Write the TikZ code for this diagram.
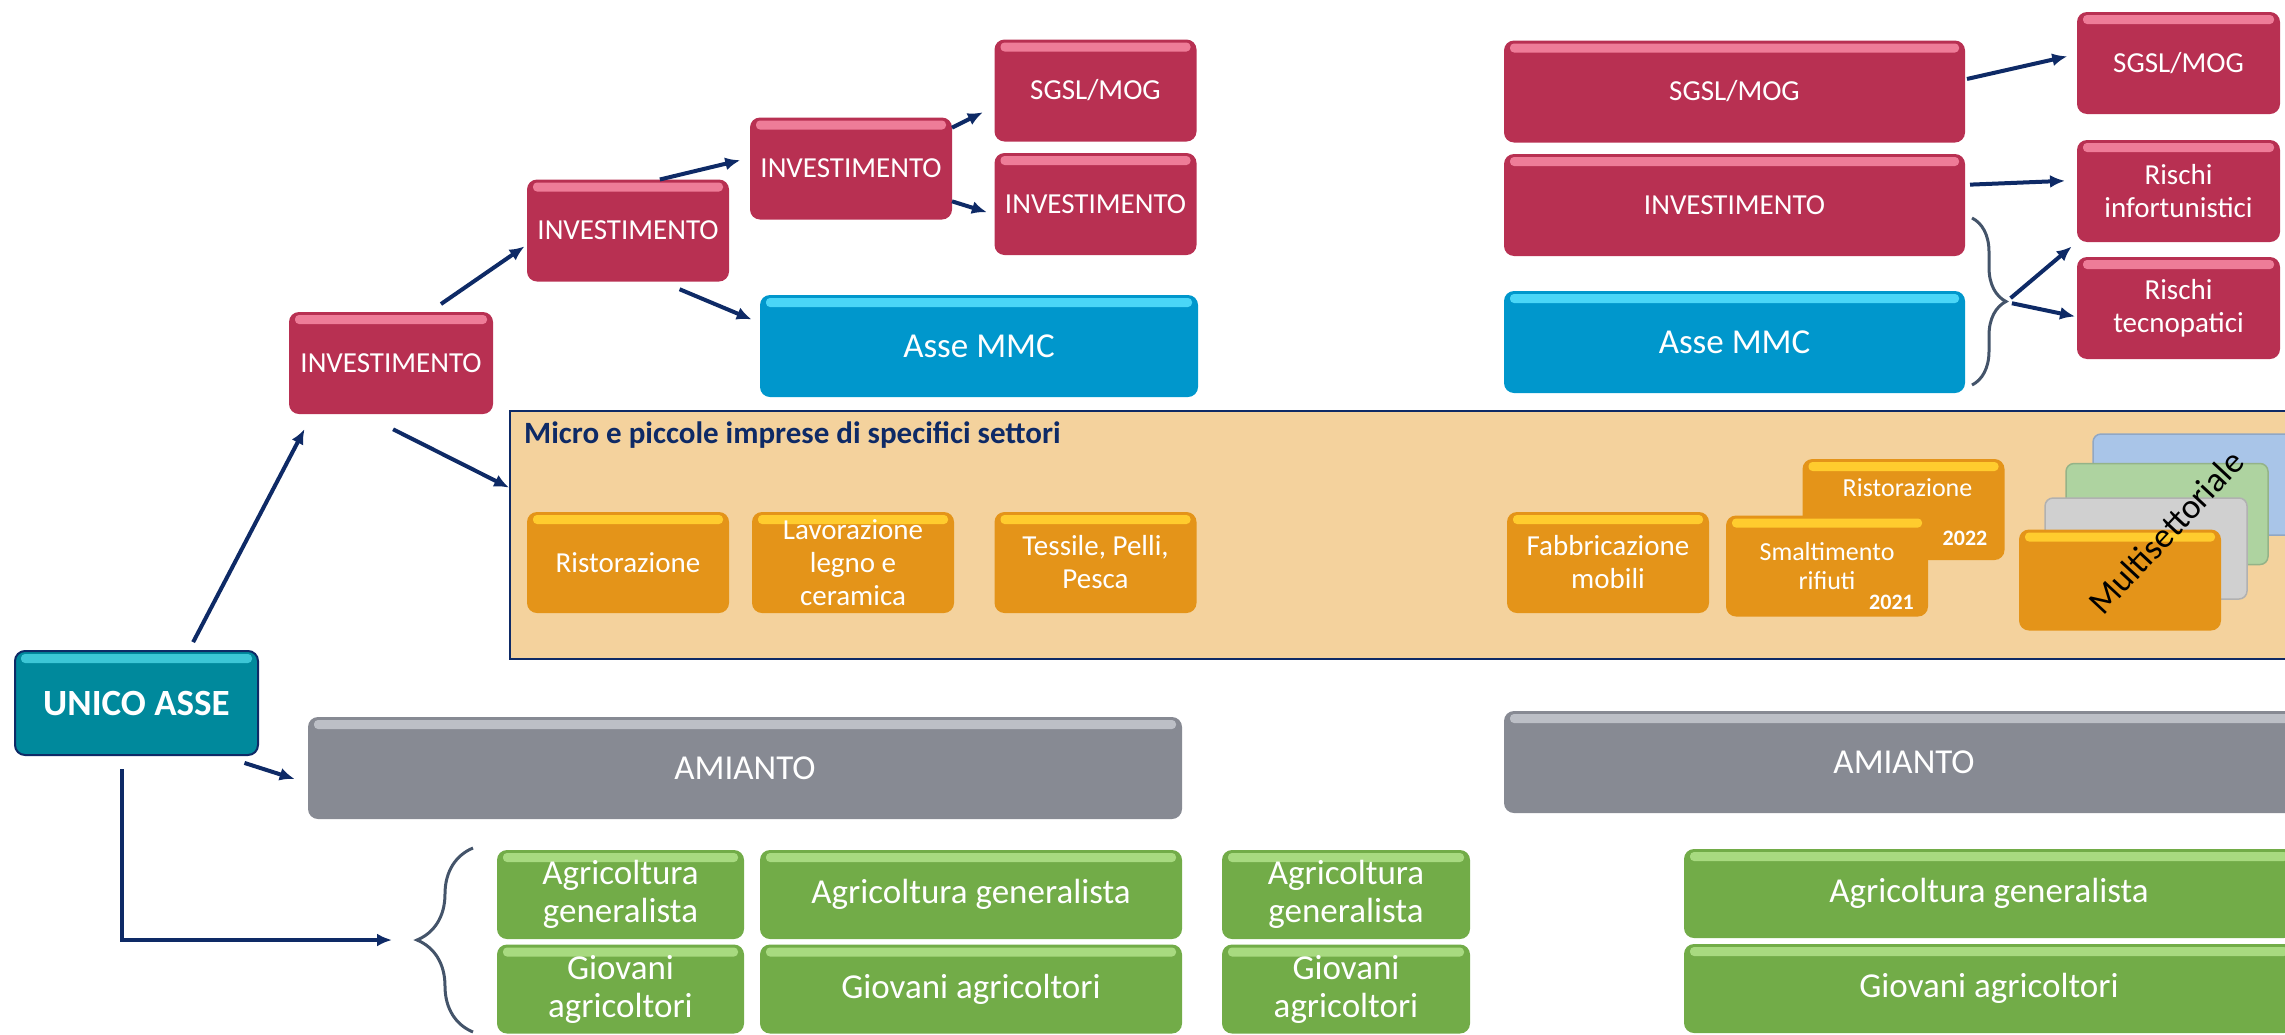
\documentclass[tikz,border=0pt]{standalone}
\usepackage{fontspec}
\setmainfont{Carlito}
\usetikzlibrary{arrows.meta,decorations.pathreplacing}

\definecolor{cremisi}{HTML}{B83052}
\definecolor{cremisichiaro}{HTML}{EE7C98}
\definecolor{mmcblu}{HTML}{0097CC}
\definecolor{mmcchiaro}{HTML}{4AD6F7}
\definecolor{ottanio}{HTML}{00899C}
\definecolor{ottaniochiaro}{HTML}{3CC6D6}
\definecolor{grigioscuro}{HTML}{878A93}
\definecolor{grigiochiaro}{HTML}{BCBFC6}
\definecolor{verdescuro}{HTML}{72AC48}
\definecolor{verdechiaro}{HTML}{A8DA80}
\definecolor{aranciocupo}{HTML}{E49419}
\definecolor{aranciochiaro}{HTML}{FFCC2E}
\definecolor{pesca}{HTML}{F4D29D}
\definecolor{blunotte}{HTML}{0E2A66}
\definecolor{ardesia}{HTML}{44546A}
\definecolor{fogliogrigio}{HTML}{D0D0D0}
\definecolor{foglioverde}{HTML}{AED3A0}
\definecolor{fogliocielo}{HTML}{A9C5E8}

\tikzset{
  box/.style 2 args={fill=#1, rounded corners=10pt, text=white, align=center,
    inner sep=0pt, outer sep=0pt,
    path picture={\fill[#2, rounded corners=4pt]
      ([shift={(6pt,-3pt)}]path picture bounding box.north west) rectangle
      ([shift={(-6pt,-12pt)}]path picture bounding box.north east);}},
  rosso/.style={box={cremisi}{cremisichiaro}, font=\fontsize{29}{33}\selectfont},
  piccolo/.style={minimum width=202pt, minimum height=102pt},
  largo/.style={minimum width=461pt, minimum height=102pt},
  azzurro/.style={box={mmcblu}{mmcchiaro}, font=\fontsize{35}{40}\selectfont, minimum height=102pt},
  settore/.style={box={aranciocupo}{aranciochiaro}, font=\fontsize{29}{33}\selectfont,
    minimum width=202pt, minimum height=101pt},
  amianto/.style={box={grigioscuro}{grigiochiaro}, font=\fontsize{35}{40}\selectfont, minimum height=102pt},
  agricolo/.style={box={verdescuro}{verdechiaro}, font=\fontsize{35}{38}\selectfont, minimum height=89pt},
  foglio/.style={rounded corners=8pt, line width=1.5pt, minimum width=202pt, minimum height=101pt,
    inner sep=0pt, outer sep=0pt},
  anno/.style={text=white, font=\bfseries\fontsize{22}{24}\selectfont, anchor=base east, inner sep=0pt},
  freccia/.style={draw=blunotte, line width=4pt, -{Latex[length=15pt,width=13pt]}},
  graffa/.style={draw=ardesia, line width=3pt, decorate},
}

\begin{document}
\begin{tikzpicture}[x=1pt, y=-1pt]
  \clip (0,0) rectangle (2285,1034);

  \node[box={ottanio}{ottaniochiaro}, draw=blunotte, line width=2pt,
    font=\bfseries\fontsize{37}{42}\selectfont, minimum width=243pt, minimum height=104pt]
    (unico) at (136.5,703) {UNICO ASSE};

  \node[rosso, piccolo, minimum width=204pt] (inv1) at (391,363) {INVESTIMENTO};
  \node[rosso, piccolo] (inv2) at (628,230.5) {INVESTIMENTO};
  \node[rosso, piccolo] (inv3) at (851,168.5) {INVESTIMENTO};
  \node[rosso, piccolo] (sgslA) at (1095.5,90.5) {SGSL/MOG};
  \node[rosso, piccolo] (inv4) at (1095.5,204) {INVESTIMENTO};
  \node[azzurro, minimum width=438pt] (mmcA) at (979,346) {Asse MMC};

  \node[rosso, largo] (sgslB) at (1734.5,91.5) {SGSL/MOG};
  \node[rosso, largo] (invB) at (1734.5,205) {INVESTIMENTO};
  \node[azzurro, minimum width=461pt] (mmcB) at (1734.5,342) {Asse MMC};
  \node[rosso, piccolo, minimum width=203pt] (sgslC) at (2178.5,63) {SGSL/MOG};
  \node[rosso, piccolo, minimum width=203pt] (rinf) at (2178.5,191) {Rischi\\infortunistici};
  \node[rosso, piccolo, minimum width=203pt] (rtec) at (2178.5,308) {Rischi\\tecnopatici};

  \node[draw=blunotte, line width=2pt, fill=pesca, minimum width=1790pt, minimum height=248pt,
    inner sep=0pt, outer sep=0pt] (panel) at (1405,535) {};
  \node[anchor=base west, text=blunotte, inner sep=0pt, font=\bfseries\fontsize{31}{34}\selectfont]
    (titolo) at (524,443) {Micro e piccole imprese di specifici settori};

  \node[settore] (ristA) at (628,562.5) {Ristorazione};
  \node[settore] (legno) at (853,562.5) {Lavorazione\\legno e\\ceramica};
  \node[settore] (tess) at (1095.5,562.5) {Tessile, Pelli,\\Pesca};
  \node[settore] (fabb) at (1608,562.5) {Fabbricazione\\mobili};
  \node[settore] (rist22) at (1903.5,509.5) {};
  \node[text=white, inner sep=0pt, font=\fontsize{26}{29}\selectfont]
    (rist22txt) at ([xshift=4pt,yshift=21.5pt]rist22.center) {Ristorazione};
  \node[anno] (a2022) at ([xshift=-17pt,yshift=15pt]rist22.south east) {2022};
  \node[settore, font=\fontsize{26}{29}\selectfont] (smalt) at (1827,566) {Smaltimento\\rifiuti};
  \node[anno] (a2021) at ([xshift=-14pt,yshift=7pt]smalt.south east) {2021};

  \node[foglio, fill=fogliocielo, draw=fogliocielo!85!black] (cielo) at (2194,484.5) {};
  \node[foglio, fill=foglioverde, draw=foglioverde!85!black] (verdino) at (2167,514) {};
  \node[foglio, fill=fogliogrigio, draw=fogliogrigio!85!black] (grigino) at (2146,548.5) {};
  \node[settore] (multi) at (2120,580) {};
  \node[rotate=47, inner sep=0pt, font=\fontsize{35}{38}\selectfont]
    (multitxt) at (2166,532) {Multisettoriale};

  \node[amianto, minimum width=874pt] (amiA) at (745,768) {AMIANTO};
  \node[amianto, minimum width=800pt] (amiB) at (1904,762) {AMIANTO};

  \node[agricolo, minimum width=247pt] (agrA1) at (620.5,894.5) {Agricoltura\\generalista};
  \node[agricolo, minimum width=247pt] (giovA1) at (620.5,989) {Giovani\\agricoltori};
  \node[agricolo, minimum width=422pt] (agrA2) at (971,894.5) {Agricoltura generalista};
  \node[agricolo, minimum width=422pt] (giovA2) at (971,989) {Giovani agricoltori};
  \node[agricolo, minimum width=248pt] (agrB1) at (1346,894.5) {Agricoltura\\generalista};
  \node[agricolo, minimum width=248pt] (giovB1) at (1346,989) {Giovani\\agricoltori};
  \node[agricolo, minimum width=610pt] (agrB2) at (1989,893.5) {Agricoltura generalista};
  \node[agricolo, minimum width=610pt] (giovB2) at (1989,988.5) {Giovani agricoltori};

  \draw[graffa, decoration={brace, amplitude=56pt}] (473,1032) -- (473,848);
  \draw[graffa, decoration={brace, amplitude=34pt}] (1972,218) -- (1972,385);
  \coordinate (puntaL) at (417,940);
  \coordinate (puntaR) at (2006,302);

  \draw[freccia, shorten <=10pt, shorten >=17pt] (unico.45.3) -- (inv1.213.5);
  \draw[freccia, shorten <=14pt, shorten >=3pt] (inv1.53.6) -- (inv2.188.2);
  \draw[freccia, shorten >=10pt] (inv2.58.1) -- (inv3.174.6);
  \draw[freccia, shorten >=13pt] (inv3.22) -- (sgslA.189.9);
  \draw[freccia, shorten >=8pt] (inv3.-18) -- (inv4.186.8);
  \draw[freccia, shorten <=20pt, shorten >=9pt] (inv2.-57.4) -- (mmcA.174.65);
  \draw[freccia, shorten <=34pt, shorten >=1pt] (inv1.241.7) -- (panel.177.3);
  \draw[freccia, shorten <=26pt, shorten >=14pt] (unico.-32.4) -- (amiA.182.1);
  \draw[freccia, shorten <=14pt, shorten >=25pt] (unico.254.4) |- (puntaL);
  \draw[freccia, shorten <=2pt, shorten >=10pt] (sgslB.3.35) -- (sgslC.175.5);
  \draw[freccia, shorten <=5pt, shorten >=12pt] (invB.5.7) -- (rinf.174.9);
  \draw[freccia, shorten <=6pt, shorten >=7pt] (puntaR) -- (rinf.south west);
  \draw[freccia, shorten <=6pt, shorten >=2pt] (puntaR) -- (rtec.185.6);
\end{tikzpicture}
\end{document}
